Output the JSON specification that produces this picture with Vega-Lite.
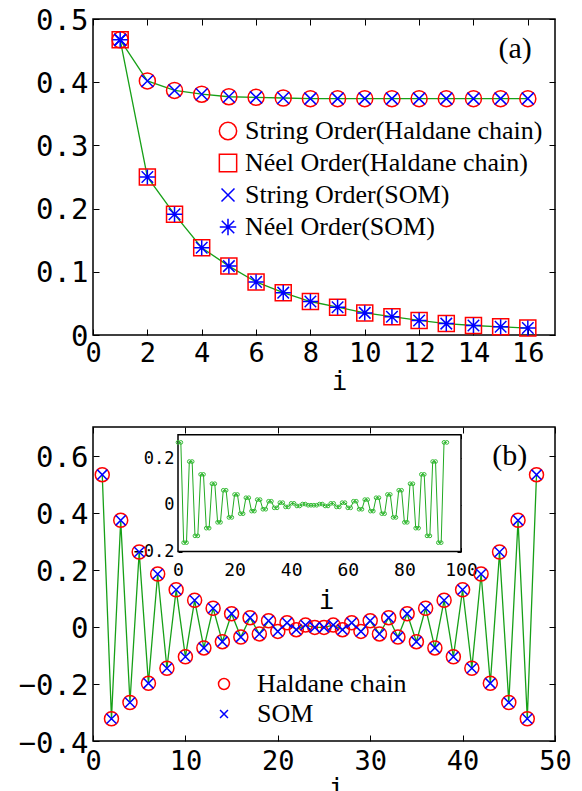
{
"$schema":"https://vega.github.io/schema/vega-lite/v6.json",
"background":"white",
"padding":{"left":17,"top":5,"right":0,"bottom":0},
"spacing":30,
"resolve":{"scale":{"color":"independent","shape":"independent"},"legend":{"color":"independent","shape":"independent"}},
"config":{
 "view":{"stroke":"black","strokeWidth":1.5},
 "axis":{"domain":false,"grid":false,"tickColor":"black","tickWidth":1,"labelColor":"black","labelFont":"DejaVu Sans Mono","labelFlush":false,"labelOverlap":false,"titleFont":"DejaVu Sans Mono","titleFontWeight":"normal","titleColor":"black"}
},
"datasets":{
 "a":[
  {"i":1,"s":"String Order(Haldane chain)","v":0.467},{"i":2,"s":"String Order(Haldane chain)","v":0.402},{"i":3,"s":"String Order(Haldane chain)","v":0.387},{"i":4,"s":"String Order(Haldane chain)","v":0.381},{"i":5,"s":"String Order(Haldane chain)","v":0.377},{"i":6,"s":"String Order(Haldane chain)","v":0.376},{"i":7,"s":"String Order(Haldane chain)","v":0.375},{"i":8,"s":"String Order(Haldane chain)","v":0.374},{"i":9,"s":"String Order(Haldane chain)","v":0.374},{"i":10,"s":"String Order(Haldane chain)","v":0.374},{"i":11,"s":"String Order(Haldane chain)","v":0.374},{"i":12,"s":"String Order(Haldane chain)","v":0.374},{"i":13,"s":"String Order(Haldane chain)","v":0.374},{"i":14,"s":"String Order(Haldane chain)","v":0.374},{"i":15,"s":"String Order(Haldane chain)","v":0.374},{"i":16,"s":"String Order(Haldane chain)","v":0.374},
  {"i":1,"s":"Néel Order(Haldane chain)","v":0.467},{"i":2,"s":"Néel Order(Haldane chain)","v":0.250},{"i":3,"s":"Néel Order(Haldane chain)","v":0.191},{"i":4,"s":"Néel Order(Haldane chain)","v":0.138},{"i":5,"s":"Néel Order(Haldane chain)","v":0.109},{"i":6,"s":"Néel Order(Haldane chain)","v":0.084},{"i":7,"s":"Néel Order(Haldane chain)","v":0.067},{"i":8,"s":"Néel Order(Haldane chain)","v":0.053},{"i":9,"s":"Néel Order(Haldane chain)","v":0.044},{"i":10,"s":"Néel Order(Haldane chain)","v":0.035},{"i":11,"s":"Néel Order(Haldane chain)","v":0.029},{"i":12,"s":"Néel Order(Haldane chain)","v":0.023},{"i":13,"s":"Néel Order(Haldane chain)","v":0.018},{"i":14,"s":"Néel Order(Haldane chain)","v":0.015},{"i":15,"s":"Néel Order(Haldane chain)","v":0.013},{"i":16,"s":"Néel Order(Haldane chain)","v":0.011},
  {"i":1,"s":"String Order(SOM)","v":0.467},{"i":2,"s":"String Order(SOM)","v":0.402},{"i":3,"s":"String Order(SOM)","v":0.387},{"i":4,"s":"String Order(SOM)","v":0.381},{"i":5,"s":"String Order(SOM)","v":0.377},{"i":6,"s":"String Order(SOM)","v":0.376},{"i":7,"s":"String Order(SOM)","v":0.375},{"i":8,"s":"String Order(SOM)","v":0.374},{"i":9,"s":"String Order(SOM)","v":0.374},{"i":10,"s":"String Order(SOM)","v":0.374},{"i":11,"s":"String Order(SOM)","v":0.374},{"i":12,"s":"String Order(SOM)","v":0.374},{"i":13,"s":"String Order(SOM)","v":0.374},{"i":14,"s":"String Order(SOM)","v":0.374},{"i":15,"s":"String Order(SOM)","v":0.374},{"i":16,"s":"String Order(SOM)","v":0.374},
  {"i":1,"s":"Néel Order(SOM)","v":0.467},{"i":2,"s":"Néel Order(SOM)","v":0.250},{"i":3,"s":"Néel Order(SOM)","v":0.191},{"i":4,"s":"Néel Order(SOM)","v":0.138},{"i":5,"s":"Néel Order(SOM)","v":0.109},{"i":6,"s":"Néel Order(SOM)","v":0.084},{"i":7,"s":"Néel Order(SOM)","v":0.067},{"i":8,"s":"Néel Order(SOM)","v":0.053},{"i":9,"s":"Néel Order(SOM)","v":0.044},{"i":10,"s":"Néel Order(SOM)","v":0.035},{"i":11,"s":"Néel Order(SOM)","v":0.029},{"i":12,"s":"Néel Order(SOM)","v":0.023},{"i":13,"s":"Néel Order(SOM)","v":0.018},{"i":14,"s":"Néel Order(SOM)","v":0.015},{"i":15,"s":"Néel Order(SOM)","v":0.013},{"i":16,"s":"Néel Order(SOM)","v":0.011}
 ],
 "b":[
  {"i":1,"s":"Haldane chain","v":0.533},{"i":2,"s":"Haldane chain","v":-0.322},{"i":3,"s":"Haldane chain","v":0.373},{"i":4,"s":"Haldane chain","v":-0.265},{"i":5,"s":"Haldane chain","v":0.262},{"i":6,"s":"Haldane chain","v":-0.198},{"i":7,"s":"Haldane chain","v":0.185},{"i":8,"s":"Haldane chain","v":-0.145},{"i":9,"s":"Haldane chain","v":0.130},{"i":10,"s":"Haldane chain","v":-0.105},{"i":11,"s":"Haldane chain","v":0.093},{"i":12,"s":"Haldane chain","v":-0.074},{"i":13,"s":"Haldane chain","v":0.065},{"i":14,"s":"Haldane chain","v":-0.052},{"i":15,"s":"Haldane chain","v":0.046},{"i":16,"s":"Haldane chain","v":-0.036},{"i":17,"s":"Haldane chain","v":0.032},{"i":18,"s":"Haldane chain","v":-0.025},{"i":19,"s":"Haldane chain","v":0.021},{"i":20,"s":"Haldane chain","v":-0.016},{"i":21,"s":"Haldane chain","v":0.014},{"i":22,"s":"Haldane chain","v":-0.010},{"i":23,"s":"Haldane chain","v":0.006},{"i":24,"s":"Haldane chain","v":-0.002},
  {"i":25,"s":"Haldane chain","v":-0.002},{"i":26,"s":"Haldane chain","v":0.006},{"i":27,"s":"Haldane chain","v":-0.010},{"i":28,"s":"Haldane chain","v":0.014},{"i":29,"s":"Haldane chain","v":-0.016},{"i":30,"s":"Haldane chain","v":0.021},{"i":31,"s":"Haldane chain","v":-0.025},{"i":32,"s":"Haldane chain","v":0.032},{"i":33,"s":"Haldane chain","v":-0.036},{"i":34,"s":"Haldane chain","v":0.046},{"i":35,"s":"Haldane chain","v":-0.052},{"i":36,"s":"Haldane chain","v":0.065},{"i":37,"s":"Haldane chain","v":-0.074},{"i":38,"s":"Haldane chain","v":0.093},{"i":39,"s":"Haldane chain","v":-0.105},{"i":40,"s":"Haldane chain","v":0.130},{"i":41,"s":"Haldane chain","v":-0.145},{"i":42,"s":"Haldane chain","v":0.185},{"i":43,"s":"Haldane chain","v":-0.198},{"i":44,"s":"Haldane chain","v":0.262},{"i":45,"s":"Haldane chain","v":-0.265},{"i":46,"s":"Haldane chain","v":0.373},{"i":47,"s":"Haldane chain","v":-0.322},{"i":48,"s":"Haldane chain","v":0.533},
  {"i":1,"s":"SOM","v":0.533},{"i":2,"s":"SOM","v":-0.322},{"i":3,"s":"SOM","v":0.373},{"i":4,"s":"SOM","v":-0.265},{"i":5,"s":"SOM","v":0.262},{"i":6,"s":"SOM","v":-0.198},{"i":7,"s":"SOM","v":0.185},{"i":8,"s":"SOM","v":-0.145},{"i":9,"s":"SOM","v":0.130},{"i":10,"s":"SOM","v":-0.105},{"i":11,"s":"SOM","v":0.093},{"i":12,"s":"SOM","v":-0.074},{"i":13,"s":"SOM","v":0.065},{"i":14,"s":"SOM","v":-0.052},{"i":15,"s":"SOM","v":0.046},{"i":16,"s":"SOM","v":-0.036},{"i":17,"s":"SOM","v":0.032},{"i":18,"s":"SOM","v":-0.025},{"i":19,"s":"SOM","v":0.021},{"i":20,"s":"SOM","v":-0.016},{"i":21,"s":"SOM","v":0.014},{"i":22,"s":"SOM","v":-0.010},{"i":23,"s":"SOM","v":0.006},{"i":24,"s":"SOM","v":-0.002},
  {"i":25,"s":"SOM","v":-0.002},{"i":26,"s":"SOM","v":0.006},{"i":27,"s":"SOM","v":-0.010},{"i":28,"s":"SOM","v":0.014},{"i":29,"s":"SOM","v":-0.016},{"i":30,"s":"SOM","v":0.021},{"i":31,"s":"SOM","v":-0.025},{"i":32,"s":"SOM","v":0.032},{"i":33,"s":"SOM","v":-0.036},{"i":34,"s":"SOM","v":0.046},{"i":35,"s":"SOM","v":-0.052},{"i":36,"s":"SOM","v":0.065},{"i":37,"s":"SOM","v":-0.074},{"i":38,"s":"SOM","v":0.093},{"i":39,"s":"SOM","v":-0.105},{"i":40,"s":"SOM","v":0.130},{"i":41,"s":"SOM","v":-0.145},{"i":42,"s":"SOM","v":0.185},{"i":43,"s":"SOM","v":-0.198},{"i":44,"s":"SOM","v":0.262},{"i":45,"s":"SOM","v":-0.265},{"i":46,"s":"SOM","v":0.373},{"i":47,"s":"SOM","v":-0.322},{"i":48,"s":"SOM","v":0.533}
 ],
 "inset":[
  {"x":0,"v":0.267},{"x":1,"v":0.267},{"x":2,"v":-0.162},{"x":3,"v":-0.162},{"x":4,"v":0.185},{"x":5,"v":0.185},{"x":6,"v":-0.133},{"x":7,"v":-0.133},{"x":8,"v":0.130},{"x":9,"v":0.130},{"x":10,"v":-0.100},{"x":11,"v":-0.100},{"x":12,"v":0.090},{"x":13,"v":0.090},{"x":14,"v":-0.075},{"x":15,"v":-0.075},{"x":16,"v":0.062},{"x":17,"v":0.062},{"x":18,"v":-0.054},{"x":19,"v":-0.054},{"x":20,"v":0.044},{"x":21,"v":0.044},{"x":22,"v":-0.038},{"x":23,"v":-0.038},
  {"x":24,"v":0.030},{"x":25,"v":0.030},{"x":26,"v":-0.027},{"x":27,"v":-0.027},{"x":28,"v":0.022},{"x":29,"v":0.022},{"x":30,"v":-0.019},{"x":31,"v":-0.019},{"x":32,"v":0.015},{"x":33,"v":0.015},{"x":34,"v":-0.013},{"x":35,"v":-0.013},{"x":36,"v":0.009},{"x":37,"v":0.009},{"x":38,"v":-0.009},{"x":39,"v":-0.009},{"x":40,"v":0.006},{"x":41,"v":0.006},{"x":42,"v":-0.005},{"x":43,"v":-0.005},{"x":44,"v":0.003},{"x":45,"v":0.003},{"x":46,"v":-0.002},{"x":47,"v":-0.002},
  {"x":48,"v":-0.002},{"x":49,"v":-0.002},{"x":50,"v":0.003},{"x":51,"v":0.003},{"x":52,"v":-0.005},{"x":53,"v":-0.005},{"x":54,"v":0.006},{"x":55,"v":0.006},{"x":56,"v":-0.009},{"x":57,"v":-0.009},{"x":58,"v":0.009},{"x":59,"v":0.009},{"x":60,"v":-0.013},{"x":61,"v":-0.013},{"x":62,"v":0.015},{"x":63,"v":0.015},{"x":64,"v":-0.019},{"x":65,"v":-0.019},{"x":66,"v":0.022},{"x":67,"v":0.022},{"x":68,"v":-0.027},{"x":69,"v":-0.027},{"x":70,"v":0.030},{"x":71,"v":0.030},
  {"x":72,"v":-0.038},{"x":73,"v":-0.038},{"x":74,"v":0.044},{"x":75,"v":0.044},{"x":76,"v":-0.054},{"x":77,"v":-0.054},{"x":78,"v":0.062},{"x":79,"v":0.062},{"x":80,"v":-0.075},{"x":81,"v":-0.075},{"x":82,"v":0.090},{"x":83,"v":0.090},{"x":84,"v":-0.100},{"x":85,"v":-0.100},{"x":86,"v":0.130},{"x":87,"v":0.130},{"x":88,"v":-0.133},{"x":89,"v":-0.133},{"x":90,"v":0.185},{"x":91,"v":0.185},{"x":92,"v":-0.162},{"x":93,"v":-0.162},{"x":94,"v":0.267},{"x":95,"v":0.267}
 ]
},
"vconcat":[
 {
  "width":462,"height":316,
  "data":{"name":"a"},
  "layer":[
   {
    "transform":[{"filter":"indexof(datum.s,'Haldane')>=0"}],
    "mark":{"type":"line","color":"#17a017","strokeWidth":1.3},
    "encoding":{
     "x":{"field":"i","type":"quantitative","scale":{"domain":[0,17],"nice":false,"zero":false},
      "axis":{"orient":"bottom","values":[0,2,4,6,8,10,12,14,16],"tickSize":-6,"labelPadding":11,"labelFontSize":27,"title":"i","titleFontSize":26,"titleX":246,"titleY":54,"titleBaseline":"alphabetic","titleAlign":"center"}},
     "y":{"field":"v","type":"quantitative","scale":{"domain":[0,0.5],"nice":false,"zero":false},
      "axis":{"orient":"left","values":[0,0.1,0.2,0.3,0.4,0.5],"format":".1~f","tickSize":-6,"labelPadding":11,"labelOffset":1,"labelFontSize":29,"title":null}},
     "detail":{"field":"s"}
    }
   },
   {
    "mark":{"type":"point","filled":false,"strokeWidth":1.5,"opacity":1,"size":256},
    "encoding":{
     "x":{"field":"i","type":"quantitative","axis":{"orient":"top","values":[0,2,4,6,8,10,12,14,16],"tickSize":-6,"labels":false,"title":null}},
     "y":{"field":"v","type":"quantitative","axis":{"orient":"right","values":[0,0.1,0.2,0.3,0.4,0.5],"tickSize":-6,"labels":false,"title":null}},
     "color":{"field":"s","type":"nominal",
      "scale":{"domain":["String Order(Haldane chain)","Néel Order(Haldane chain)","String Order(SOM)","Néel Order(SOM)"],"range":["#ff0000","#ff0000","#0000ff","#0000ff"]},
      "legend":{"orient":"none","legendX":122,"legendY":99,"title":null,"padding":0,"labelFont":"Liberation Serif","labelFontSize":26,"labelColor":"black","labelLimit":400,"symbolSize":300,"symbolStrokeWidth":1.5,"rowPadding":6,"labelOffset":4}},
     "shape":{"field":"s","type":"nominal",
      "scale":{"domain":["String Order(Haldane chain)","Néel Order(Haldane chain)","String Order(SOM)","Néel Order(SOM)"],"range":["circle","square","M-0.75,-0.75L0.75,0.75M-0.75,0.75L0.75,-0.75","M-0.72,-0.72L0.72,0.72M-0.72,0.72L0.72,-0.72M0,-0.95L0,0.95M-0.95,0L0.95,0"]},
      "legend":{"orient":"none","legendX":122,"legendY":99,"title":null,"padding":0,"labelFont":"Liberation Serif","labelFontSize":26,"labelColor":"black","labelLimit":400,"symbolSize":300,"symbolStrokeWidth":1.5,"rowPadding":6,"labelOffset":4}}
    }
   },
   {
    "data":{"values":[{"t":"(a)"}]},
    "mark":{"type":"text","font":"Liberation Serif","fontSize":30,"color":"black","align":"center","baseline":"middle"},
    "encoding":{
     "x":{"datum":15.53,"type":"quantitative","axis":null},
     "y":{"datum":0.452,"type":"quantitative","axis":null},
     "text":{"field":"t"}
    }
   }
  ],
  "resolve":{"axis":{"x":"independent","y":"independent"}}
 },
 {
  "width":462,"height":314,
  "data":{"name":"b"},
  "layer":[
   {
    "transform":[{"filter":"datum.s=='Haldane chain'"}],
    "mark":{"type":"line","color":"#17a017","strokeWidth":1.3},
    "encoding":{
     "x":{"field":"i","type":"quantitative","scale":{"domain":[0,50],"nice":false,"zero":false},
      "axis":{"orient":"bottom","values":[0,10,20,30,40,50],"tickSize":-6,"labelPadding":13,"labelFontSize":27,"title":"i","titleFontSize":26,"titleX":243,"titleY":55,"titleBaseline":"alphabetic","titleAlign":"center"}},
     "y":{"field":"v","type":"quantitative","scale":{"domain":[-0.4,0.7],"nice":false,"zero":false},
      "axis":{"orient":"left","values":[-0.4,-0.2,0,0.2,0.4,0.6],"format":".1~f","tickSize":-6,"labelPadding":11,"labelOffset":2,"labelFontSize":29,"title":null}}
    }
   },
   {
    "mark":{"type":"point","filled":false,"strokeWidth":1.5,"opacity":1,"size":196},
    "encoding":{
     "x":{"field":"i","type":"quantitative","scale":{"domain":[0,50],"nice":false,"zero":false},"axis":{"orient":"top","values":[0,10,20,30,40,50],"tickSize":-6,"labels":false,"title":null}},
     "y":{"field":"v","type":"quantitative","scale":{"domain":[-0.4,0.7],"nice":false,"zero":false},"axis":{"orient":"right","values":[-0.4,-0.2,0,0.2,0.4,0.6],"tickSize":-6,"labels":false,"title":null}},
     "color":{"field":"s","type":"nominal","scale":{"domain":["Haldane chain","SOM"],"range":["#ff0000","#0000ff"]},
      "legend":{"orient":"none","legendX":118,"legendY":244,"title":null,"padding":0,"labelFont":"Liberation Serif","labelFontSize":26,"labelColor":"black","labelLimit":400,"symbolSize":121,"symbolStrokeWidth":1.5,"rowPadding":4,"labelOffset":20}},
     "shape":{"field":"s","type":"nominal","scale":{"domain":["Haldane chain","SOM"],"range":["circle","M-0.72,-0.72L0.72,0.72M-0.72,0.72L0.72,-0.72"]},
      "legend":{"orient":"none","legendX":118,"legendY":244,"title":null,"padding":0,"labelFont":"Liberation Serif","labelFontSize":26,"labelColor":"black","labelLimit":400,"symbolSize":121,"symbolStrokeWidth":1.5,"rowPadding":4,"labelOffset":20}}
    }
   },
   {
    "data":{"values":[{"t":"(b)"}]},
    "mark":{"type":"text","font":"Liberation Serif","fontSize":30,"color":"black","align":"center","baseline":"middle"},
    "encoding":{
     "x":{"datum":45.1,"type":"quantitative","scale":{"domain":[0,50],"nice":false,"zero":false},"axis":null},
     "y":{"datum":0.6,"type":"quantitative","scale":{"domain":[-0.4,0.7],"nice":false,"zero":false},"axis":null},
     "text":{"field":"t"}
    }
   },
   {
    "data":{"values":[{"t":"inset"}]},
    "mark":{"type":"rect","fill":"white","stroke":"black","strokeWidth":1.5},
    "encoding":{
     "x":{"datum":0,"type":"quantitative","scale":{"domain":[0,100],"range":[85,368],"nice":false,"zero":false},
      "axis":{"orient":"top","offset":-7.7,"values":[0,20,40,60,80,100],"tickSize":-4,"labels":false,"title":null}},
     "x2":{"datum":100},
     "y":{"datum":-0.2,"type":"quantitative","scale":{"domain":[-0.2,0.3],"range":[124.5,7.7],"nice":false,"zero":false},
      "axis":{"orient":"right","offset":-94,"values":[-0.2,0,0.2],"tickSize":-4,"labels":false,"title":null}},
     "y2":{"datum":0.3}
    }
   },
   {
    "data":{"name":"inset"},
    "mark":{"type":"line","color":"#22aa22","strokeWidth":1},
    "encoding":{
     "x":{"field":"x","type":"quantitative","scale":{"domain":[0,100],"range":[85,368],"nice":false,"zero":false},
      "axis":{"orient":"bottom","offset":-189.5,"values":[0,20,40,60,80,100],"tickSize":-4,"labelPadding":14,"labelFontSize":18,"title":"i","titleFontSize":26,"titleX":233,"titleY":57,"titleBaseline":"alphabetic","titleAlign":"center"}},
     "y":{"field":"v","type":"quantitative","scale":{"domain":[-0.2,0.3],"range":[124.5,7.7],"nice":false,"zero":false},
      "axis":{"orient":"left","offset":-85,"values":[-0.2,0,0.2],"format":".1~f","tickSize":-4,"labelPadding":8,"labelFontSize":17,"title":null}}
    }
   },
   {
    "data":{"name":"inset"},
    "mark":{"type":"point","filled":false,"color":"#33bb33","strokeWidth":1,"opacity":1,"size":14},
    "encoding":{
     "x":{"field":"x","type":"quantitative","scale":{"domain":[0,100],"range":[85,368],"nice":false,"zero":false},"axis":null},
     "y":{"field":"v","type":"quantitative","scale":{"domain":[-0.2,0.3],"range":[124.5,7.7],"nice":false,"zero":false},"axis":null}
    }
   }
  ],
  "resolve":{"scale":{"x":"independent","y":"independent"},"axis":{"x":"independent","y":"independent"}}
 }
]
}
